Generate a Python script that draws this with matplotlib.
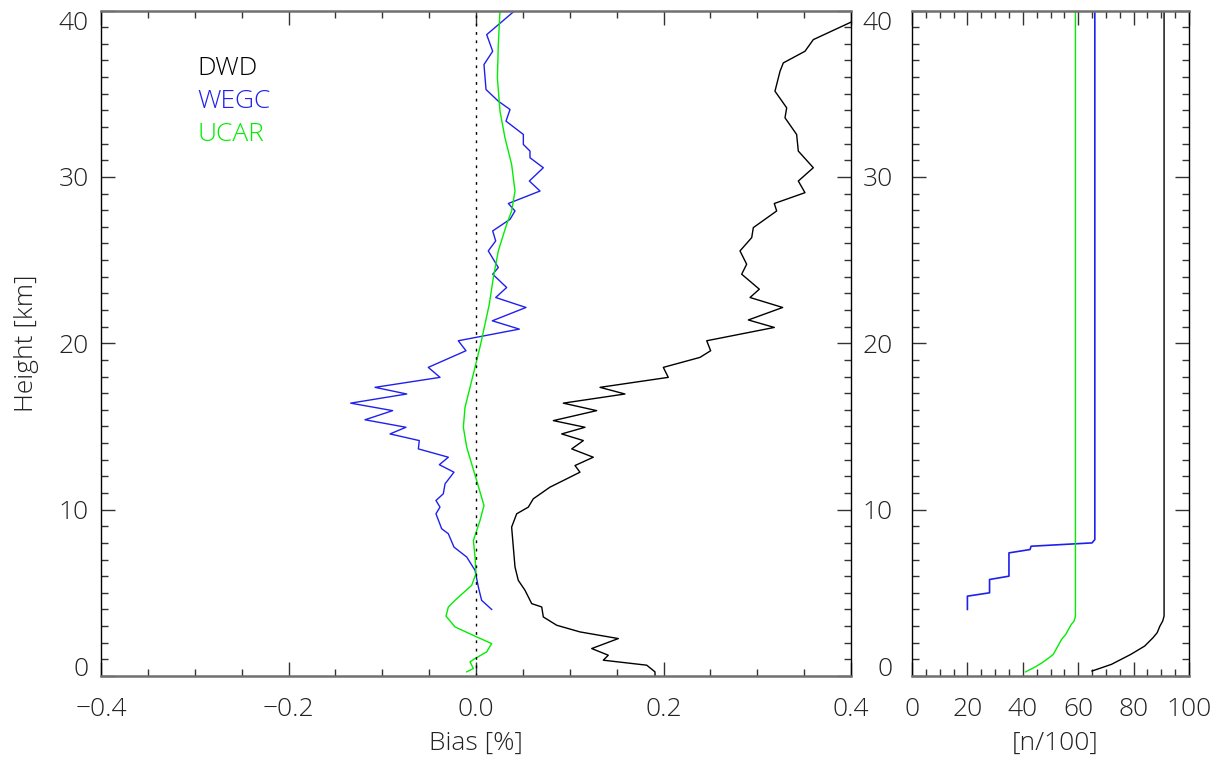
import matplotlib
matplotlib.use("Agg")
import matplotlib.pyplot as plt
from matplotlib.ticker import MultipleLocator

# Bias profiles [%] vs height [km]
dwd_bias = [0.45, 0.40, 0.3598, 0.3509, 0.3278, 0.3243, 0.3189, 0.3314, 0.3296, 0.342, 0.3438,
            0.3598, 0.3438, 0.3509, 0.3182, 0.3207, 0.2958, 0.2941, 0.2816, 0.2887, 0.2834,
            0.3022, 0.2923, 0.3271, 0.2905, 0.3182, 0.2461, 0.2503, 0.2389, 0.1998, 0.2051,
            0.1323, 0.1589, 0.0931, 0.1287, 0.0825, 0.1163, 0.0914, 0.1145, 0.1021, 0.1251,
            0.1056, 0.1109, 0.0967, 0.0789, 0.0611, 0.0558, 0.0434, 0.038, 0.0398, 0.0416,
            0.0451, 0.0523, 0.0594, 0.0701, 0.0718, 0.0861, 0.1109, 0.1518, 0.1234, 0.1411,
            0.1358, 0.1821, 0.1909, 0.191]
dwd_height = [39.8, 39.3, 38.25, 37.55, 36.85, 36.35, 35.15, 34.15, 33.55, 32.55, 31.55,
              30.55, 29.75, 29.05, 28.4, 27.95, 26.95, 26.35, 25.55, 24.75, 24.15,
              23.25, 22.75, 22.15, 21.4, 20.95, 20.15, 19.55, 19.15, 18.55, 17.95,
              17.35, 16.95, 16.4, 15.95, 15.35, 14.95, 14.55, 14.15, 13.65, 13.15,
              12.65, 12.25, 11.85, 11.35, 10.65, 10.15, 9.75, 8.95, 7.75, 6.55,
              5.75, 5.15, 4.35, 4.15, 3.55, 3.05, 2.65, 2.25, 1.65, 1.25,
              0.95, 0.65, 0.25, 0.0]

wegc_bias = [0.0416, 0.0114, 0.0178, 0.0085, 0.0107, 0.0238, 0.0363, 0.032, 0.0505, 0.0505,
             0.0576, 0.0576, 0.0718, 0.0569, 0.0683, 0.0345, 0.0416, 0.0363, 0.0178, 0.021,
             0.0131, 0.0238, 0.0178, 0.0327, 0.021, 0.0533, 0.0174, 0.0462, -0.0189, -0.0107,
             -0.0509, -0.0384, -0.1077, -0.0739, -0.1337, -0.0889, -0.1184, -0.0747, -0.0917,
             -0.0605, -0.0615, -0.0295, -0.0391, -0.0235, -0.033, -0.0349, -0.0427, -0.0384,
             -0.0427, -0.0366, -0.0295, -0.0235, -0.0099, -0.001, 0.0025, 0.006, 0.0167]
wegc_height = [40.0, 38.55, 37.55, 36.75, 35.25, 34.55, 34.05, 33.35, 32.55, 31.95,
               31.55, 31.15, 30.55, 29.75, 29.15, 28.4, 27.95, 27.45, 26.75, 26.15,
               25.55, 24.55, 24.15, 23.35, 22.75, 22.15, 21.35, 20.85, 20.15, 19.55,
               18.55, 17.95, 17.35, 16.95, 16.4, 15.95, 15.4, 14.95, 14.55,
               14.15, 13.65, 13.15, 12.7, 12.25, 11.55, 10.95, 10.55, 10.15,
               9.75, 8.85, 8.55, 7.75, 7.15, 6.35, 5.35, 4.55, 4.0]

ucar_bias = [0.0256, 0.0238, 0.0228, 0.0256, 0.0309, 0.038, 0.0416, 0.038, 0.0327, 0.0238,
             0.0185, 0.0142, 0.0096, 0.005, 0.0007, -0.0046, -0.0117, -0.0135, -0.0099,
             0.0007, 0.0085, 0.0043, -0.0028, -0.001, 0.0, -0.0046, -0.0224, -0.0295,
             -0.032, -0.0224, 0.0007, 0.0167, 0.0114, -0.001, -0.0064, -0.0028, -0.0099]
ucar_height = [40.0, 37.95, 35.95, 33.95, 32.35, 30.75, 29.15, 27.95, 27.15, 25.55,
               23.95, 22.35, 21.15, 19.95, 18.95, 17.75, 16.15, 14.95, 13.75,
               11.75, 10.25, 9.35, 8.15, 7.15, 6.15, 5.45, 4.55, 4.15,
               3.6, 2.95, 2.35, 1.95, 1.45, 1.05, 0.85, 0.45, 0.25]

# Number of profiles [n/100] vs height [km]
dwd_n = [65, 72, 79, 84, 87, 88.5, 89.5, 90.5, 91, 91, 91]
dwd_n_height = [0.3, 0.7, 1.3, 1.8, 2.3, 2.6, 3.0, 3.3, 3.6, 20.0, 40.0]
ucar_n = [41, 44, 47, 49.5, 51, 52, 53, 54, 55.5, 56.5, 57.5, 58.5, 59, 59, 59]
ucar_n_height = [0.25, 0.5, 0.8, 1.1, 1.3, 1.6, 1.9, 2.2, 2.5, 2.8, 3.1, 3.3, 3.6, 20.0, 40.0]
wegc_n = [20, 20, 28, 28, 35, 35, 42.6, 43, 65, 66, 66]
wegc_n_height = [4.0, 4.8, 5.0, 5.8, 6.0, 7.4, 7.6, 7.8, 8.0, 8.2, 40.0]

series = ["DWD", "WEGC", "UCAR"]
colors = {"DWD": "black", "WEGC": "#2020ee", "UCAR": "#00ee00"}

FS = 19
plt.rcParams["font.family"] = ["Open Sans", "DejaVu Sans"]
plt.rcParams["font.weight"] = 300
plt.rcParams["axes.labelweight"] = 300
plt.rcParams["axes.unicode_minus"] = True


def style_axes(ax, ylabel_pad):
    for side in ["left", "right"]:
        ax.spines[side].set_color("black")
        ax.spines[side].set_linewidth(1.0)
    for side in ["top", "bottom"]:
        ax.spines[side].set_color("#707070")
        ax.spines[side].set_linewidth(1.8)
    ax.tick_params(which="both", direction="in", top=True, right=True, color="#333333", width=1.0)
    ax.tick_params(which="major", length=10, labelsize=FS)
    ax.tick_params(which="minor", length=5)
    ax.tick_params(axis="x", which="major", pad=15)
    ax.tick_params(axis="y", which="major", pad=ylabel_pad)
    ax.set_ylim(0, 40)
    ax.yaxis.set_major_locator(MultipleLocator(10))
    ax.yaxis.set_minor_locator(MultipleLocator(1))
    ax.set_yticks([0, 10, 20, 30, 40], ["0", "10", "20", "30", "40"])
    labels = ax.get_yticklabels()
    # keep the end labels inside the frame, as in the reference
    labels[0].set_va("baseline")
    labels[-1].set_va("top")
    for lab in ax.get_xticklabels() + ax.get_yticklabels():
        lab.set_color("#222222")


fig = plt.figure(figsize=(12.24, 7.63), dpi=100)
ax1 = fig.add_axes([101 / 1224, 87 / 763, 750 / 1224, 665.5 / 763])
ax2 = fig.add_axes([912 / 1224, 87 / 763, 277 / 1224, 665.5 / 763])

# left panel: bias profiles
ax1.plot(dwd_bias, dwd_height, color=colors["DWD"], lw=1.0)
ax1.plot(wegc_bias, wegc_height, color=colors["WEGC"], lw=1.0)
ax1.plot(ucar_bias, ucar_height, color=colors["UCAR"], lw=1.0)
ax1.axvline(0, color="black", lw=1.0, ls=(0, (2, 4)))
ax1.set_xlim(-0.4, 0.4)
ax1.xaxis.set_major_locator(MultipleLocator(0.2))
ax1.xaxis.set_minor_locator(MultipleLocator(0.05))
ax1.set_xticks([-0.4, -0.2, 0.0, 0.2, 0.4], ["\u22120.4", "\u22120.2", "0.0", "0.2", "0.4"])
style_axes(ax1, 9)
ax1.set_xlabel("Bias [%]", fontsize=FS, color="#222222", va="center", fontweight=300)
ax1.xaxis.set_label_coords(0.5, -0.1007)
ax1.set_ylabel("Height [km]", fontsize=FS, color="#222222", va="center", fontweight=300)
ax1.yaxis.set_label_coords(-0.0987, 0.5)

for i, name in enumerate(series):
    ax1.text(0.128, 0.913 - i * 0.05, name, transform=ax1.transAxes, color=colors[name],
             fontsize=FS, va="center", ha="left")

# right panel: number of profiles
ax2.plot(dwd_n, dwd_n_height, color=colors["DWD"], lw=1.0)
ax2.plot(wegc_n, wegc_n_height, color=colors["WEGC"], lw=1.2)
ax2.plot(ucar_n, ucar_n_height, color=colors["UCAR"], lw=1.0)
ax2.set_xlim(0, 100)
ax2.xaxis.set_major_locator(MultipleLocator(20))
ax2.xaxis.set_minor_locator(MultipleLocator(5))
ax2.set_xticks([0, 20, 40, 60, 80, 100], ["0", "20", "40", "60", "80", "100"])
style_axes(ax2, 14)
ax2.set_xlabel("[n/100]", fontsize=FS, color="#222222", va="center", fontweight=300)
ax2.xaxis.set_label_coords(0.516, -0.1007)

fig.savefig("out.png", dpi=100)
